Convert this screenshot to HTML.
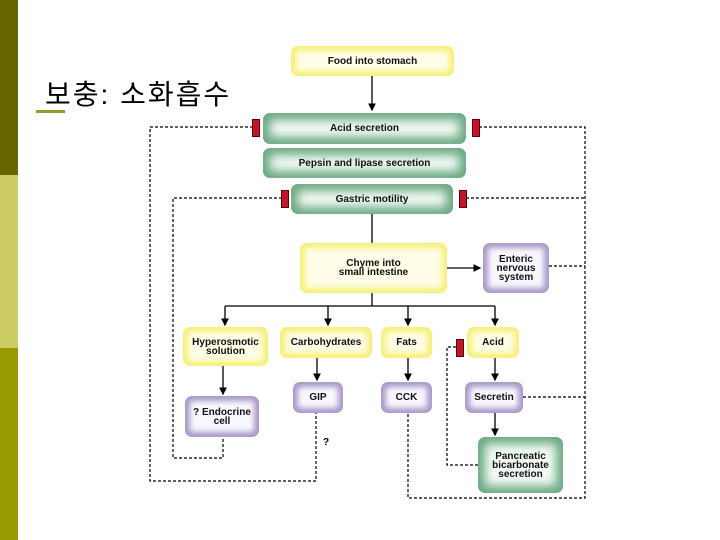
<!DOCTYPE html>
<html><head><meta charset="utf-8"><style>
body{margin:0;width:720px;height:540px;position:relative;background:#fff;overflow:hidden;font-family:"Liberation Sans",Arial,sans-serif}
.sb{position:absolute;left:0;width:18px}
.b{position:absolute;display:flex;align-items:center;justify-content:center;text-align:center;font-size:10px;font-weight:bold;line-height:9px;color:#111;border-radius:7px;background:#fff;box-sizing:border-box}
.y{box-shadow:inset 0 0 6px 5px #f6f07a;background:#fffde8}
.g{box-shadow:inset 0 0 10px 7px #6aa882;background:#f4fbf6}
.p{box-shadow:inset 0 0 6px 5px #a998c9;background:#faf8ff}
.r{position:absolute;width:6px;height:16px;background:#c0152a;border:1px solid #600}
svg{position:absolute;left:0;top:0}
</style></head><body>
<div class="sb" style="top:0;height:175px;background:#666600"></div>
<div class="sb" style="top:175px;height:173px;background:#cccc66"></div>
<div class="sb" style="top:348px;height:192px;background:#999900"></div>
<div style="position:absolute;left:45px;top:73px;font-size:28px;letter-spacing:2px;font-family:'Liberation Sans','Noto Sans CJK KR',sans-serif;color:#000">보충: 소화흡수</div>
<div style="position:absolute;left:36px;top:110px;width:29px;height:3px;background:#999933"></div>
<svg width="720" height="540">
<defs><marker id="a" markerWidth="6" markerHeight="6" refX="5" refY="3" orient="auto"><path d="M0,0L6,3L0,6z" fill="#000"/></marker></defs>
<g stroke="#000" stroke-width="1.3" fill="none">
<line x1="372" y1="76" x2="372" y2="110" marker-end="url(#a)"/>
<line x1="372" y1="214" x2="372" y2="243"/>
<line x1="447" y1="268" x2="480" y2="268" marker-end="url(#a)"/>
<line x1="372" y1="293" x2="372" y2="306"/>
<line x1="225" y1="306" x2="495" y2="306"/>
<line x1="225" y1="306" x2="225" y2="325" marker-end="url(#a)"/>
<line x1="328" y1="306" x2="328" y2="325" marker-end="url(#a)"/>
<line x1="408" y1="306" x2="408" y2="325" marker-end="url(#a)"/>
<line x1="495" y1="306" x2="495" y2="325" marker-end="url(#a)"/>
<line x1="223" y1="366" x2="223" y2="394" marker-end="url(#a)"/>
<line x1="317" y1="358" x2="317" y2="380" marker-end="url(#a)"/>
<line x1="408" y1="358" x2="408" y2="380" marker-end="url(#a)"/>
<line x1="495" y1="358" x2="495" y2="380" marker-end="url(#a)"/>
<line x1="495" y1="413" x2="495" y2="435" marker-end="url(#a)"/>
</g>
<g stroke="#000" stroke-width="1.2" fill="none" stroke-dasharray="3,2">
<polyline points="253,127 150,127 150,481 316,481 316,413"/>
<polyline points="282,198 173,198 173,458 223,458 223,437"/>
<polyline points="479,127 585,127 585,498 408,498 408,413"/>
<line x1="466" y1="198" x2="585" y2="198"/>
<line x1="549" y1="266" x2="585" y2="266"/>
<line x1="523" y1="397" x2="585" y2="397"/>
<polyline points="478,465 447,465 447,347 456,347"/>
</g>
<text x="323" y="445" font-size="10" font-weight="bold" font-family="Liberation Sans,sans-serif">?</text>
</svg>
<div class="b y" style="left:291px;top:46px;width:163px;height:30px">Food into stomach</div>
<div class="b g" style="left:263px;top:113px;width:203px;height:31px">Acid secretion</div>
<div class="b g" style="left:263px;top:148px;width:203px;height:30px">Pepsin and lipase secretion</div>
<div class="b g" style="left:291px;top:184px;width:162px;height:30px">Gastric motility</div>
<div class="b y" style="left:300px;top:243px;width:147px;height:50px">Chyme into<br>small intestine</div>
<div class="b p" style="left:483px;top:243px;width:66px;height:50px">Enteric<br>nervous<br>system</div>
<div class="b y" style="left:183px;top:327px;width:85px;height:39px">Hyperosmotic<br>solution</div>
<div class="b y" style="left:280px;top:327px;width:92px;height:31px">Carbohydrates</div>
<div class="b y" style="left:381px;top:327px;width:51px;height:31px">Fats</div>
<div class="b y" style="left:467px;top:327px;width:52px;height:31px">Acid</div>
<div class="b p" style="left:185px;top:396px;width:74px;height:41px">? Endocrine<br>cell</div>
<div class="b p" style="left:293px;top:382px;width:50px;height:31px">GIP</div>
<div class="b p" style="left:381px;top:382px;width:51px;height:31px">CCK</div>
<div class="b p" style="left:465px;top:382px;width:58px;height:31px">Secretin</div>
<div class="b g" style="left:478px;top:437px;width:85px;height:56px">Pancreatic<br>bicarbonate<br>secretion</div>
<div class="r" style="left:252px;top:119px"></div>
<div class="r" style="left:472px;top:119px"></div>
<div class="r" style="left:281px;top:190px"></div>
<div class="r" style="left:459px;top:190px"></div>
<div class="r" style="left:456px;top:339px"></div>
</body></html>
